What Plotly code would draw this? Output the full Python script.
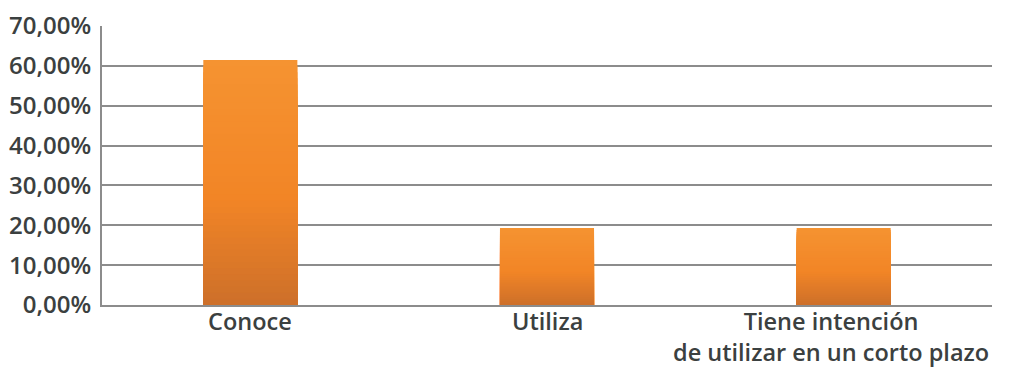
import plotly.graph_objects as go

# Survey results: share of respondents per category
categories = ["Conoce", "Utiliza", "Tiene intención<br>de utilizar en un corto plazo"]
shares = [0.615, 0.193, 0.193]

# Vertical gradient for the bars: light orange at the top, darker at the base
top_rgb = (245, 147, 49)
mid_rgb = (242, 133, 38)
bottom_rgb = (204, 111, 42)


def blend(a, b, t):
    return tuple(round(a[k] + (b[k] - a[k]) * t) for k in range(3))


def shade(depth):
    # depth: 0 at bar top, 1 at bar base
    if depth < 0.55:
        c = blend(top_rgb, mid_rgb, depth / 0.55)
    else:
        c = blend(mid_rgb, bottom_rgb, (depth - 0.55) / 0.45)
    return "rgb(%d,%d,%d)" % c


fig = go.Figure()
steps = 40
for i in range(steps):
    frac = 1 - i / steps
    fig.add_trace(go.Bar(
        x=categories,
        y=[v * frac for v in shares],
        width=0.317,
        marker=dict(color=shade(i / steps), line=dict(width=0)),
        hoverinfo="skip" if i else "y",
        showlegend=False,
    ))

font_color = "#3b4040"
grid_color = "#8c8c8c"
label_font = dict(family="Open Sans", size=24, color=font_color, weight=600)
category_font = dict(family="Open Sans", size=23.5, color=font_color, weight=600)

# Category labels under the axis; the long last label is nudged left so it
# stays inside the plot's right edge
for idx, cat in enumerate(categories):
    fig.add_annotation(
        x=cat, xref="x",
        y=0, yref="paper",
        yanchor="top", xanchor="center",
        yshift=1,
        xshift=-13 if idx == len(categories) - 1 else 0,
        text=cat,
        showarrow=False,
        align="center",
        borderpad=0,
        font=category_font,
    )

fig.update_layout(
    width=1011,
    height=367,
    margin=dict(l=102, r=19, t=26, b=62),
    barmode="overlay",
    separators=",.",
    paper_bgcolor="white",
    plot_bgcolor="white",
    font=dict(family="Open Sans", size=24, color=font_color, weight=600),
    xaxis=dict(
        automargin=False,
        showgrid=False,
        showline=True,
        linecolor=grid_color,
        linewidth=2,
        ticks="",
        showticklabels=False,
    ),
    yaxis=dict(
        automargin=False,
        range=[0, 0.7],
        dtick=0.1,
        tick0=0,
        tickformat=".2%",
        showgrid=True,
        gridcolor=grid_color,
        gridwidth=2,
        showline=True,
        linecolor=grid_color,
        linewidth=2,
        zeroline=False,
        ticks="",
        ticklabelstandoff=4,
        tickfont=label_font,
    ),
)

fig.write_html("out.html")
